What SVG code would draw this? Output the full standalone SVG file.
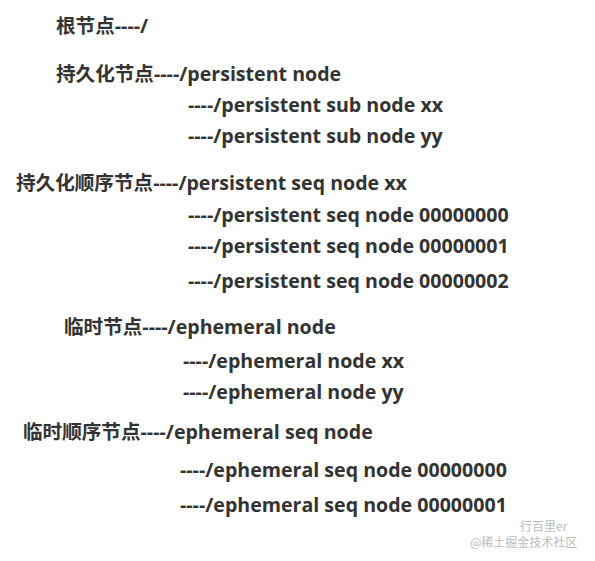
<svg xmlns="http://www.w3.org/2000/svg" width="595" height="561" viewBox="0 0 595 561">
<style>
.t{font-family:"Open Sans","Noto Sans CJK SC",sans-serif;font-weight:bold;font-size:19.6px;fill:#333}
.w{font-family:"Noto Sans CJK SC",sans-serif;font-size:12px;fill:#bbb}
</style>
<rect width="595" height="561" fill="#fff"/>
<g id="root"><text class="t" x="56" y="33">根节点----/</text></g>
<g id="persistent">
<text class="t" x="56" y="81">持久化节点----/persistent node</text>
<text class="t" x="188" y="112">----/persistent sub node xx</text>
<text class="t" x="188" y="143">----/persistent sub node yy</text>
</g>
<g id="persistent-seq">
<text class="t" x="16" y="190">持久化顺序节点----/persistent seq node xx</text>
<text class="t" x="188" y="222">----/persistent seq node 00000000</text>
<text class="t" x="188" y="253">----/persistent seq node 00000001</text>
<text class="t" x="188" y="288">----/persistent seq node 00000002</text>
</g>
<g id="ephemeral">
<text class="t" x="64" y="334">临时节点----/ephemeral node</text>
<text class="t" x="183" y="368">----/ephemeral node xx</text>
<text class="t" x="183" y="399">----/ephemeral node yy</text>
</g>
<g id="ephemeral-seq">
<text class="t" x="23" y="439">临时顺序节点----/ephemeral seq node</text>
<text class="t" x="180" y="477">----/ephemeral seq node 00000000</text>
<text class="t" x="180" y="512">----/ephemeral seq node 00000001</text>
</g>
<g id="connectors"/>
<g id="watermark">
<text class="w" x="470" y="547">@稀土掘金技术社区</text>
<text class="w" x="520" y="531" font-size="15">行百里er</text>
</g>
</svg>
